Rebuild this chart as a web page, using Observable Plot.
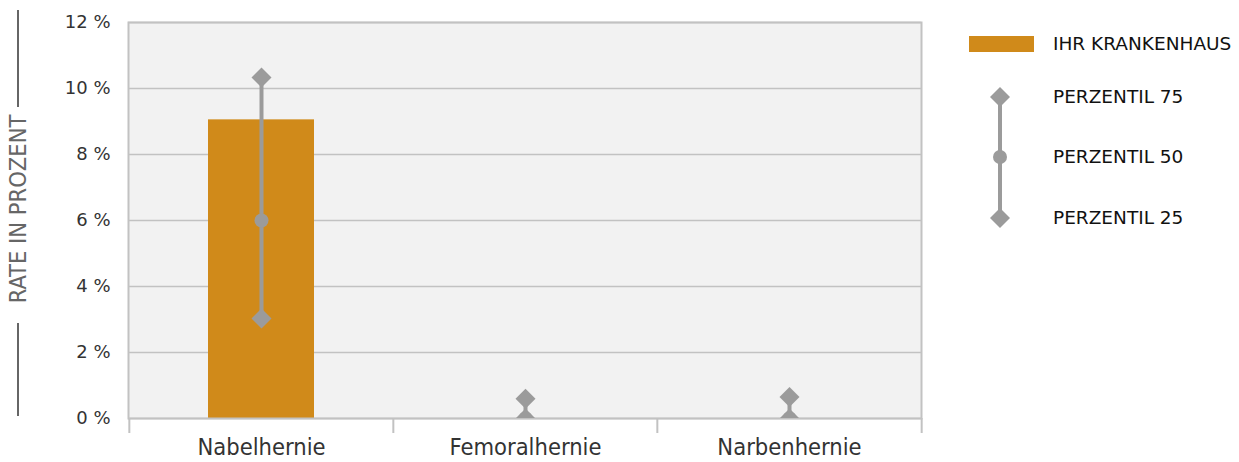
<!DOCTYPE html>
<html><head><meta charset="utf-8">
<script src="https://cdn.jsdelivr.net/npm/d3@7"></script>
<script src="https://cdn.jsdelivr.net/npm/@observablehq/plot@0.6"></script>
<style>body{margin:0;background:#fff} #chart svg{display:block} .cond{font-family:"DejaVu Sans Condensed","DejaVu Sans",sans-serif;font-stretch:condensed}</style>
</head><body><div id="chart"></div>
<script>
const categories = ["Nabelhernie", "Femoralhernie", "Narbenhernie"];
const hospitalRate = [9.05, 0, 0];
const p25 = [3.03, 0, 0];
const p50 = [6.0, 0, 0];
const p75 = [10.33, 0.6, 0.65];
const yTicks = [0, 2, 4, 6, 8, 10, 12];
const legendLabels = ["IHR KRANKENHAUS", "PERZENTIL 75", "PERZENTIL 50", "PERZENTIL 25"];
const yTitle = "RATE IN PROZENT";

const data = categories.map((c, i) => ({cat: c, rate: hospitalRate[i], p25: p25[i], p50: p50[i], p75: p75[i]}));

const W = 1239, H = 462, mL = 128, mR = 318, mT = 22, mB = 44;
const pIn = 0.6, pOut = 0.3;
const step = (W - mL - mR) / (categories.length - pIn + 2 * pOut);
const orange = "#D08A1A", grey = "#9B9B9B", lineGrey = "#c2c2c2";
const condFont = "'DejaVu Sans Condensed', 'DejaVu Sans', sans-serif";

const plot = Plot.plot({
  width: W, height: H, marginLeft: mL, marginRight: mR, marginTop: mT, marginBottom: mB,
  style: {fontFamily: "DejaVu Sans", fontSize: "17.5px", color: "#333", background: "transparent"},
  x: {domain: categories, paddingInner: pIn, paddingOuter: pOut, label: null},
  y: {domain: [0, 12], label: null},
  marks: [
    Plot.frame({fill: "#f2f2f2", stroke: null}),
    Plot.gridY(yTicks, {stroke: lineGrey, strokeOpacity: 1, strokeWidth: 1.5}),
    Plot.barY(data, {x: "cat", y: "rate", fill: orange}),
    Plot.frame({stroke: lineGrey, strokeWidth: 2}),
    Plot.ruleX(categories, {x: d => d, dx: -step / 2, y1: d => 0, y2: d => 0, insetBottom: -15, stroke: lineGrey, strokeWidth: 2}),
    Plot.ruleX(categories.slice(-1), {x: d => d, dx: step / 2, y1: d => 0, y2: d => 0, insetBottom: -15, stroke: lineGrey, strokeWidth: 2}),
    Plot.ruleX(data, {x: "cat", y1: "p25", y2: "p75", stroke: grey, strokeWidth: 4, clip: true}),
    Plot.dot(data, {x: "cat", y: "p50", r: 7, fill: grey, stroke: null, clip: true}),
    Plot.dot(data, {x: "cat", y: "p25", symbol: "diamond2", r: 9, fill: grey, stroke: null, clip: true}),
    Plot.dot(data, {x: "cat", y: "p75", symbol: "diamond2", r: 9, fill: grey, stroke: null, clip: true}),
    Plot.axisY(yTicks, {tickSize: 0, tickPadding: 18, tickFormat: d => d + " %", fill: "#333", fontSize: 18}),
    Plot.axisX({tickSize: 0, tickPadding: 20, fontSize: 23.5, fontFamily: condFont, className: "xax", fill: "#333"})
  ]
});

document.getElementById("chart").appendChild(plot);
d3.select(plot).selectAll(".xax text").style("font-stretch", "condensed");

const svg = d3.select(plot);
// y-axis title with lines
const yt = svg.append("g").attr("transform", "translate(18,0)");
yt.append("line").attr("x1", 0).attr("x2", 0).attr("y1", 10).attr("y2", 107).attr("stroke", "#666").attr("stroke-width", 2);
yt.append("line").attr("x1", 0).attr("x2", 0).attr("y1", 323).attr("y2", 416).attr("stroke", "#666").attr("stroke-width", 2);
yt.append("text").attr("class", "cond").attr("transform", "translate(8,209) rotate(-90)").attr("text-anchor", "middle")
  .attr("font-size", 23.5).attr("fill", "#666").text(yTitle);

// legend
const lg = svg.append("g").attr("font-family", "DejaVu Sans").attr("font-size", 18.5).attr("fill", "#111").attr("text-anchor", "start");
lg.append("rect").attr("x", 969).attr("y", 36).attr("width", 65).attr("height", 16).attr("fill", orange);
const rowsY = [44, 97, 157, 218];
lg.append("line").attr("x1", 1000).attr("x2", 1000).attr("y1", rowsY[1]).attr("y2", rowsY[3]).attr("stroke", grey).attr("stroke-width", 4);
const diamond = d3.symbol(d3.symbolDiamond2 || d3.symbolSquare, Math.PI * 81);
const rot = d3.symbolDiamond2 ? "" : " rotate(45)";
lg.append("path").attr("d", diamond()).attr("transform", `translate(1000,${rowsY[1]})` + rot).attr("fill", grey);
lg.append("circle").attr("cx", 1000).attr("cy", rowsY[2]).attr("r", 7).attr("fill", grey);
lg.append("path").attr("d", diamond()).attr("transform", `translate(1000,${rowsY[3]})` + rot).attr("fill", grey);
legendLabels.forEach((t, i) => {
  lg.append("text").attr("x", 1053).attr("y", rowsY[i]).attr("dy", "0.35em").text(t);
});
</script>
</body></html>
